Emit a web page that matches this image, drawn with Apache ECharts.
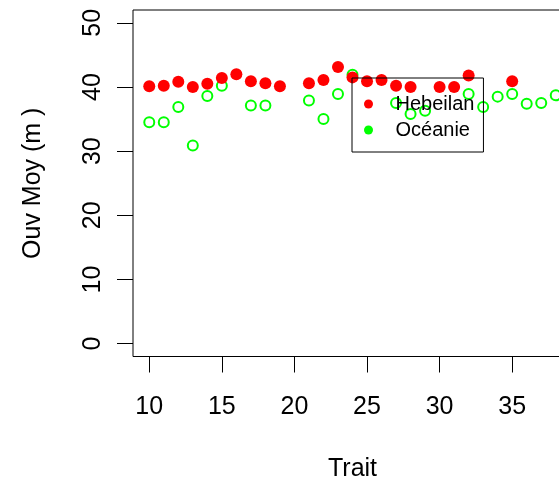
<!DOCTYPE html>
<html>
<head>
<meta charset="utf-8">
<script src="https://cdn.jsdelivr.net/npm/echarts@6/dist/echarts.min.js"></script>
<style>
  html, body { margin: 0; padding: 0; background: #fff; }
  #chart { width: 559px; height: 482px; }
</style>
</head>
<body>
<div id="chart"></div>
<script>
// Trait numbers and mean opening (m) for each vessel
const hebeilanTrait = [10, 11, 12, 13, 14, 15, 16, 17, 18, 19, 21, 22, 23, 24, 25, 26, 27, 28, 30, 31, 32, 35];
const hebeilanOuv   = [40.1, 40.2, 40.8, 40.0, 40.5, 41.4, 42.0, 40.9, 40.6, 40.1, 40.6, 41.1, 43.1, 41.5, 40.9, 41.1, 40.2, 40.0, 40.0, 40.0, 41.8, 40.9];

const oceanieTrait = [10, 11, 12, 13, 14, 15, 17, 18, 21, 22, 23, 24, 27, 28, 29, 32, 33, 34, 35, 36, 37, 38];
const oceanieOuv   = [34.5, 34.5, 36.9, 30.9, 38.6, 40.2, 37.1, 37.1, 37.9, 35.0, 38.9, 41.9, 37.5, 35.8, 36.3, 38.9, 36.9, 38.5, 38.9, 37.4, 37.5, 38.7];

// Tick positions
const xTicks = [10, 15, 20, 25, 30, 35];
const yTicks = [0, 10, 20, 30, 40, 50];

const FONT = '"Liberation Sans", Arial, sans-serif';

const chart = echarts.init(document.getElementById('chart'), null, { renderer: 'canvas' });

const pairs = (xs, ys) => xs.map((x, i) => [x, ys[i]]);

chart.setOption({
  animation: false,
  backgroundColor: '#fff',
  grid: {
    left: 133, top: 10, width: 439, height: 346.5,
    containLabel: false, outerBoundsMode: 'none',
    show: true, borderColor: '#000', borderWidth: 1, backgroundColor: 'transparent'
  },
  xAxis: {
    type: 'value', min: 8.88, max: 39.12,
    name: 'Trait', nameLocation: 'middle', nameGap: 100,
    nameTextStyle: { fontSize: 25, color: '#000', fontFamily: FONT },
    axisLine: { show: false, onZero: false },
    axisTick: { show: true, length: 16, customValues: xTicks, lineStyle: { color: '#000', width: 1 } },
    axisLabel: { customValues: xTicks, margin: 38, fontSize: 25, color: '#000', fontFamily: FONT },
    splitLine: { show: false }
  },
  yAxis: {
    type: 'value', min: -2, max: 52,
    name: 'Ouv Moy (m )', nameLocation: 'middle', nameGap: 87, nameRotate: 90,
    nameTextStyle: { fontSize: 25, color: '#000', fontFamily: FONT },
    axisLine: { show: false, onZero: false },
    axisTick: { show: true, length: 16, customValues: yTicks, lineStyle: { color: '#000', width: 1 } },
    axisLabel: { customValues: yTicks, rotate: 90, margin: 27, fontSize: 25, color: '#000', fontFamily: FONT },
    splitLine: { show: false }
  },
  legend: {
    orient: 'vertical', left: 352, top: 78,
    padding: [16, 9, 12, 12], itemGap: 6,
    itemWidth: 20, itemHeight: 9,
    borderColor: '#000', borderWidth: 1, backgroundColor: 'transparent',
    textStyle: { fontSize: 20, color: '#000', fontFamily: FONT, padding: [4, 0, 0, 12] },
    data: [
      { name: 'Hebeilan', icon: 'circle', itemStyle: { color: '#ff0000', borderWidth: 0, opacity: 1 } },
      { name: 'Océanie', icon: 'circle', itemStyle: { color: '#00ff00', borderWidth: 0, opacity: 1 } }
    ]
  },
  series: [
    {
      name: 'Océanie', type: 'scatter',
      data: pairs(oceanieTrait, oceanieOuv),
      symbol: 'emptyCircle', symbolSize: 10,
      itemStyle: { color: '#00ff00', borderColor: '#00ff00', borderWidth: 2, opacity: 1 },
      z: 2
    },
    {
      name: 'Hebeilan', type: 'scatter',
      data: pairs(hebeilanTrait, hebeilanOuv),
      symbol: 'circle', symbolSize: 12,
      itemStyle: { color: '#ff0000', opacity: 1 },
      z: 3
    }
  ]
});
</script>
</body>
</html>
